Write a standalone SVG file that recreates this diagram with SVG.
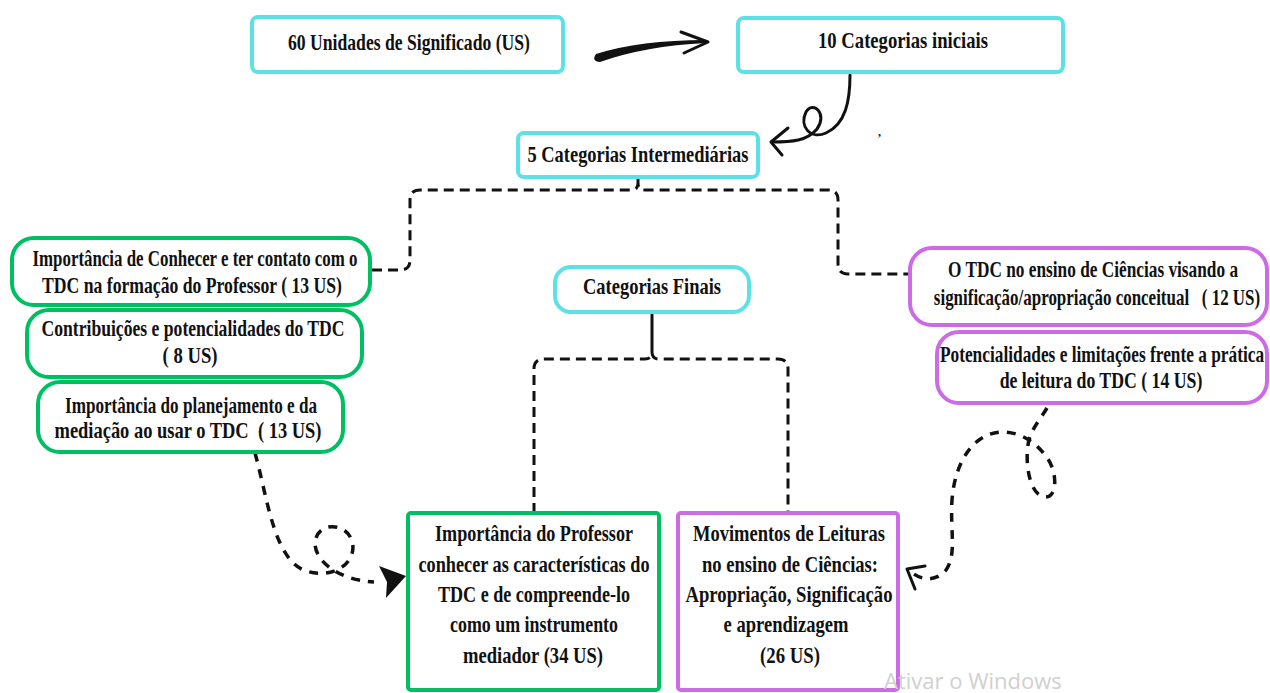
<svg xmlns="http://www.w3.org/2000/svg" width="1270" height="693" viewBox="0 0 1270 693">
<style>
  .t{font-family:"Liberation Serif","Times New Roman",serif;font-weight:bold;font-size:23px;fill:#111;text-anchor:middle}
  .b{font-size:24px}
  .cy{fill:#fff;stroke:#5ce1e6;stroke-width:4}
  .gr{fill:#fff;stroke:#00bf63;stroke-width:4}
  .pu{fill:#fff;stroke:#cb6ce6;stroke-width:4}
  .dash{fill:none;stroke:#111;stroke-width:3;stroke-dasharray:10 6}
  .curl{fill:none;stroke:#111;stroke-width:3.5;stroke-dasharray:9 8}
  .solid{fill:none;stroke:#111;stroke-width:3}
</style>
<rect width="1270" height="693" fill="#fff"/>

<g id="connectors">
  <path d="M596,54 Q640,40 706,40 L706,43 Q645,46 600,62 Q591,61 596,54 Z" fill="#111"/>
  <path d="M681,32 L708,42 L684,53" class="solid" stroke-width="4" stroke-linecap="round" stroke-linejoin="round"/>
  <path d="M850,75 C850,100 846,124 826,133 C810,140 799,126 806,112 C813,100 828,114 817,129 C807,141 792,142 772,142" class="solid" stroke-linecap="round"/>
  <path d="M788,128 L771,142 L782,155" class="solid" stroke-linecap="round" stroke-linejoin="round"/>
  <path d="M638,177 V183" class="solid"/>
  <path d="M372,270 H400 Q410,270 410,260 V200 Q410,190 420,190 H631 Q638,190 638,183 Q638,190 645,190 H828 Q838,190 838,200 V264 Q838,274 848,274 H908" class="dash"/>
  <path d="M652,312 V352" class="solid"/>
  <path d="M534,513 V369 Q534,359 544,359 H645 Q652,359 652,352 Q652,359 659,359 H778 Q788,359 788,369 V513" class="dash"/>
  <path d="M255,453 C268,500 274,560 306,571 C334,580 358,562 352,541 C347,524 322,521 316,538 C310,556 334,580 374,582" class="curl"/>
  <path d="M406,576 L379,566 L387,582 L386,598 Z" fill="#111"/>
  <path d="M1047,408 C1040,420 1030,430 1028,445 C1025,465 1030,496 1045,497 C1058,498 1058,470 1045,455 C1035,442 1020,432 1003,432 C975,432 955,460 952,500 C950,530 957,555 946,570 C936,582 921,581 910,571" class="curl"/>
  <path d="M925,566 L907,569 L915,589" class="solid" stroke-linecap="round" stroke-linejoin="round"/>
</g>

<g id="n-us">
  <rect class="cy" x="252" y="17" width="311" height="55" rx="6"/>
  <text class="t" x="409" y="50" textLength="242" lengthAdjust="spacingAndGlyphs">60 Unidades de Significado (US)</text>
</g>
<g id="n-iniciais">
  <rect class="cy" x="738" y="18" width="325" height="54" rx="6"/>
  <text class="t" x="903" y="48" textLength="170" lengthAdjust="spacingAndGlyphs">10 Categorias iniciais</text>
</g>
<g id="n-intermed">
  <rect class="cy" x="518" y="133" width="240" height="44" rx="6"/>
  <text class="t b" x="638" y="162" textLength="221" lengthAdjust="spacingAndGlyphs">5 Categorias Intermediárias</text>
</g>
<g id="n-finais">
  <rect class="cy" x="555" y="267" width="194" height="45" rx="16"/>
  <text class="t" x="652" y="294" textLength="138" lengthAdjust="spacingAndGlyphs">Categorias Finais</text>
</g>

<g id="n-l1">
  <rect class="gr" x="12" y="238" width="358" height="67" rx="22"/>
  <text class="t" x="195" y="266" textLength="325" lengthAdjust="spacingAndGlyphs">Importância de Conhecer e ter contato com o</text>
  <text class="t" x="192" y="293" textLength="300" lengthAdjust="spacingAndGlyphs">TDC na formação do Professor ( 13 US)</text>
</g>
<g id="n-l2">
  <rect class="gr" x="27" y="310" width="335" height="67" rx="22"/>
  <text class="t" x="193" y="336" textLength="303" lengthAdjust="spacingAndGlyphs">Contribuições e potencialidades do TDC</text>
  <text class="t" x="190" y="363" textLength="55" lengthAdjust="spacingAndGlyphs">( 8 US)</text>
</g>
<g id="n-l3">
  <rect class="gr" x="38" y="382" width="305" height="70" rx="22" stroke-width="5"/>
  <text class="t" x="191" y="413" textLength="252" lengthAdjust="spacingAndGlyphs">Importância do planejamento e da</text>
  <text class="t" x="188" y="438" textLength="267" lengthAdjust="spacingAndGlyphs" xml:space="preserve">mediação ao usar o TDC  ( 13 US)</text>
</g>

<g id="n-r1">
  <rect class="pu" x="910" y="248" width="357" height="77" rx="22"/>
  <text class="t" transform="translate(1093,277) scale(0.74,1)" textLength="392" lengthAdjust="spacingAndGlyphs">O TDC no ensino de Ciências visando a</text>
  <text class="t" transform="translate(1097,305) scale(0.74,1)" textLength="441" lengthAdjust="spacingAndGlyphs" xml:space="preserve">significação/apropriação conceitual   ( 12 US)</text>
</g>
<g id="n-r2">
  <rect class="pu" x="937" y="332" width="330" height="71" rx="22"/>
  <text class="t" transform="translate(1102,362) scale(0.74,1)" textLength="438" lengthAdjust="spacingAndGlyphs">Potencialidades e limitações frente a prática</text>
  <text class="t" transform="translate(1101,388) scale(0.74,1)" textLength="274" lengthAdjust="spacingAndGlyphs">de leitura do TDC ( 14 US)</text>
</g>

<g id="n-b1">
  <rect class="gr" x="408" y="513" width="251" height="177" rx="3"/>
  <text class="t b" x="534" y="541" textLength="198" lengthAdjust="spacingAndGlyphs">Importância do Professor</text>
  <text class="t b" x="534" y="572" textLength="231" lengthAdjust="spacingAndGlyphs">conhecer as características do</text>
  <text class="t b" x="534" y="602" textLength="192" lengthAdjust="spacingAndGlyphs">TDC e de compreende-lo</text>
  <text class="t b" x="534" y="632" textLength="168" lengthAdjust="spacingAndGlyphs">como um instrumento</text>
  <text class="t b" x="533" y="663" textLength="140" lengthAdjust="spacingAndGlyphs">mediador (34 US)</text>
</g>
<g id="n-b2">
  <rect class="pu" x="678" y="513" width="220" height="177" rx="3" stroke-width="5"/>
  <text class="t b" x="789" y="541" textLength="192" lengthAdjust="spacingAndGlyphs">Movimentos de Leituras</text>
  <text class="t b" x="790" y="572" textLength="176" lengthAdjust="spacingAndGlyphs">no ensino de Ciências:</text>
  <text class="t b" x="789" y="602" textLength="207" lengthAdjust="spacingAndGlyphs">Apropriação, Significação</text>
  <text class="t b" x="786" y="632" textLength="125" lengthAdjust="spacingAndGlyphs">e aprendizagem</text>
  <text class="t b" x="790" y="663" textLength="60" lengthAdjust="spacingAndGlyphs">(26 US)</text>
</g>

<text x="878" y="136" font-family="Liberation Serif, serif" font-weight="bold" font-size="12" fill="#111">,</text>
<text x="884" y="689" font-family="Open Sans, sans-serif" font-size="22" fill="#d0d0d0">Ativar o Windows</text>
</svg>
